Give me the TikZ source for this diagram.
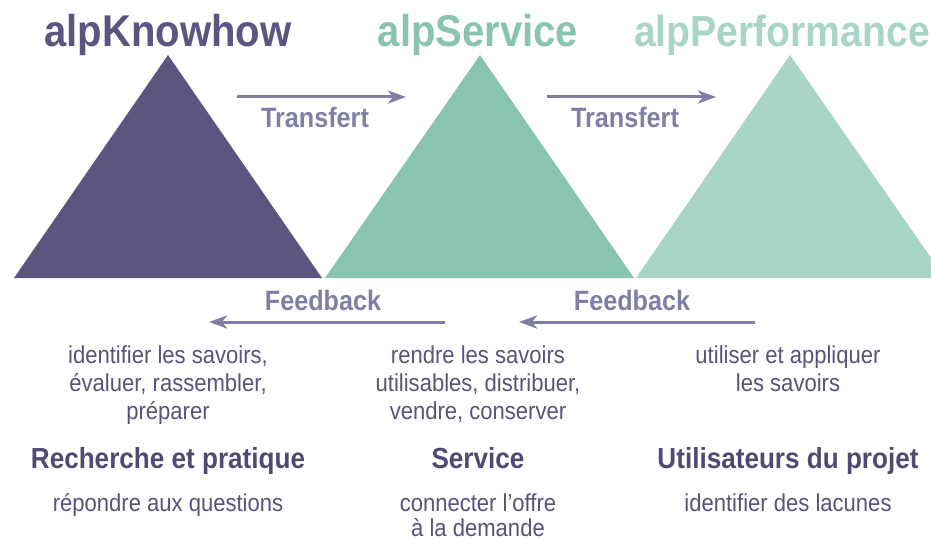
\documentclass[tikz,border=0pt]{standalone}
\usepackage{fontspec}
\setmainfont{Liberation Sans}
\newfontfamily\condfont{Liberation Sans}[FakeStretch=0.9]
\usetikzlibrary{arrows.meta}
\definecolor{triA}{HTML}{5B557F}
\definecolor{triB}{HTML}{88C4AF}
\definecolor{triC}{HTML}{A8D5C7}
\definecolor{flowc}{HTML}{807EA4}
\definecolor{bodyc}{HTML}{57547A}
\definecolor{headc}{HTML}{4E4A74}
\tikzset{
  title/.style={anchor=base, font=\condfont\fontsize{44.5}{44}\selectfont\bfseries, inner sep=0pt},
  flowlabel/.style={anchor=base, font=\condfont\fontsize{28}{28}\selectfont\bfseries, text=flowc, inner sep=0pt},
  flowarrow/.style={draw=flowc, line width=3pt, -{Stealth[length=18pt,width=13pt,inset=5pt]}},
  bodytext/.style={anchor=base, font=\condfont\fontsize{24.5}{28}\selectfont, text=bodyc, inner sep=0pt},
  headtext/.style={anchor=base, font=\condfont\fontsize{29}{30}\selectfont\bfseries, text=headc, inner sep=0pt},
}
\begin{document}
\begin{tikzpicture}[x=1pt,y=-1pt]
\useasboundingbox (0,0) rectangle (931,540);
\clip (0,0) rectangle (931,540);
% triangles
\fill[triA] (14,278) -- (168,55) -- (322,278) -- cycle;
\fill[triB] (325,278) -- (480,55) -- (634,278) -- cycle;
\fill[triC] (636,278) -- (790,55) -- (945,278) -- cycle;
% titles
\node[title, text=triA] (tK) at (168,47) {alpKnowhow};
\node[title, text=triB] (tS) at (478,47) {alpService};
\node[title, text=triC, font=\condfont\fontsize{43.5}{44}\selectfont\bfseries] (tP) at (782,47) {alpPerformance};
% transfert
\coordinate (tr1a) at (237,97);
\coordinate (tr1b) at (406,97);
\coordinate (tr2a) at (547,97);
\coordinate (tr2b) at (716,97);
\draw[flowarrow] (tr1a) -- (tr1b);
\draw[flowarrow] (tr2a) -- (tr2b);
\node[flowlabel] (lt1) at (315,128) {Transfert};
\node[flowlabel] (lt2) at (625,128) {Transfert};
% feedback
\node[flowlabel] (lf1) at (323,310) {Feedback};
\node[flowlabel] (lf2) at (632,310) {Feedback};
\coordinate (fb1a) at (445,322);
\coordinate (fb1b) at (209,322);
\coordinate (fb2a) at (755,322);
\coordinate (fb2b) at (519,322);
\draw[flowarrow] (fb1a) -- (fb1b);
\draw[flowarrow] (fb2a) -- (fb2b);
% column 1
\node[bodytext] (a1) at (168,363) {identifier les savoirs,};
\node[bodytext] (a2) at (168,391) {évaluer, rassembler,};
\node[bodytext] (a3) at (168,419) {préparer};
\node[headtext] (ah) at (168,468) {Recherche et pratique};
\node[bodytext] (a4) at (168,511) {répondre aux questions};
% column 2
\node[bodytext] (b1) at (478,363) {rendre les savoirs};
\node[bodytext] (b2) at (478,391) {utilisables, distribuer,};
\node[bodytext] (b3) at (478,419) {vendre, conserver};
\node[headtext] (bh) at (478,468) {Service};
\node[bodytext] (b4) at (478,511) {connecter l’offre};
\node[bodytext] (b5) at (478,536) {à la demande};
% column 3
\node[bodytext] (c1) at (788,363) {utiliser et appliquer};
\node[bodytext] (c2) at (788,391) {les savoirs};
\node[headtext] (ch) at (788,468) {Utilisateurs du projet};
\node[bodytext] (c4) at (788,511) {identifier des lacunes};
\end{tikzpicture}
\end{document}
